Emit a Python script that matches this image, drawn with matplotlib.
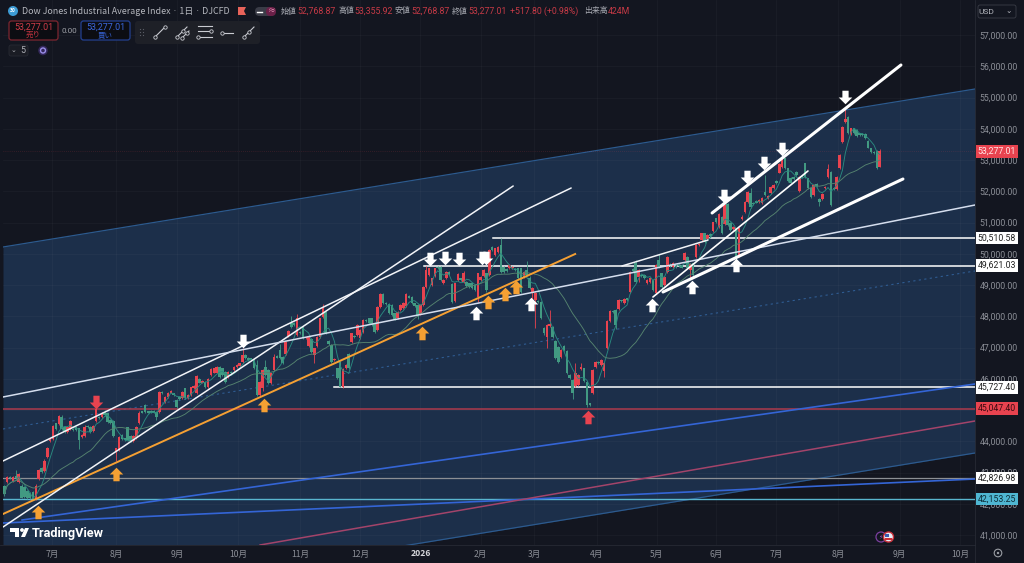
import matplotlib
matplotlib.use("Agg")
import matplotlib.pyplot as plt
import pandas as pd
from matplotlib.patches import Circle, FancyBboxPatch, Polygon, Rectangle
from matplotlib.path import Path

plt.rcParams['font.family'] = ['Noto Sans CJK JP', 'DejaVu Sans']

# daily candles, one value per bar
opens = [
    42570, 42700, 42850, 42720, 42890, 42700, 42570, 42530, 42420, 42330,
    42390, 42140, 42800, 43140, 43060, 43490, 44020, 44060, 44570, 44550,
    44790, 44470, 44310, 44380, 44400, 44450, 44410, 44150, 44180, 44490,
    44470, 44330, 44660, 44790, 44790, 44915, 44890, 44680, 44660, 43690,
    43720, 44200, 44090, 44445, 44170, 44020, 44090, 44570, 44950, 45160,
    44950, 44960, 44960, 44950, 44950, 45590, 45250, 45410, 45560, 45530,
    45320, 45420, 45370, 45690, 45370, 45480, 45700, 45530, 46000, 45880,
    45905, 45750, 46120, 46200, 46200, 46365, 46330, 46230, 46070, 46230,
    46280, 46365, 46410, 46550, 46760, 46660, 46650, 46600, 46440, 45480,
    45700, 46370, 46280, 45850, 46280, 46720, 46920, 46700, 46790, 47370,
    47770, 47790, 47400, 47500, 47670, 47290, 47050, 47260, 46760, 47060,
    47350, 47990, 48150, 47220, 47080, 46600, 46330, 46540, 45750, 46330,
    46800, 47190, 47380, 47400, 47300, 47510, 47880, 47930, 47930, 47770,
    47560, 48310, 48700, 48420, 48380, 48360, 48090, 47950, 48200, 48250,
    48340, 48650, 48630, 48410, 48360, 48060, 48360, 48950, 49320, 49000,
    49300, 49570, 49590, 49050, 49210, 49430, 49020, 48490, 49160, 49210,
    49100, 49100, 49050, 49050, 49000, 48630, 49160, 49300, 49370, 49320,
    50220, 49960, 50070, 50280, 49590, 49500, 49530, 49530, 49520, 49530,
    49530, 49270, 49480, 49210, 48755, 48520, 48500, 48470, 47610, 47350,
    47690, 47660, 47220, 47010, 46690, 47060, 46890, 46120, 45960, 45770,
    45800, 46300, 46330, 45910, 45210, 45540, 46390, 46540, 46440, 46260,
    46980, 47860, 48180, 48200, 48220, 48500, 48430, 48570, 48790, 49500,
    49690, 49270, 49300, 49320, 49070, 49090, 49160, 48750, 49800, 49370,
    49000, 49430, 49650, 49590, 49620, 49630, 49620, 49800, 49910, 49480,
    49690, 49900, 50280, 50440, 50650, 50460, 50620, 50740, 51130, 50870,
    51190, 50950, 51580, 50990, 50780, 50810, 49925, 51110, 51325, 51670,
    51930, 51640, 51700, 51660, 51630, 51965, 51770, 51930, 52100, 52340,
    52600, 52790, 53050, 52730, 52420, 52450, 52630, 52020, 52480, 52890,
    52410, 52090, 51880, 52230, 51740, 51740, 52110, 52450, 52630, 52100,
    52060, 52730, 53590, 54230, 54390, 53830, 54010, 53960, 53850, 53840,
    53830, 53620, 53370, 53260, 53300, 52768.87,
]
closes = [
    42310, 42850, 42820, 42870, 42840, 42950, 42200, 42230, 42170, 42170,
    42140, 42570, 43080, 43030, 43380, 43800, 44090, 44490, 44380, 44810,
    44380, 44310, 44450, 44650, 44350, 44360, 44040, 44200, 44470, 44450,
    44310, 44490, 45020, 44730, 44915, 44840, 44630, 44570, 44170, 43770,
    44150, 44070, 44040, 44040, 44020, 44170, 44470, 44915, 44920, 44950,
    44920, 44920, 44920, 44790, 45590, 45550, 45410, 45560, 45620, 45480,
    45110, 45350, 45590, 45370, 45480, 45725, 45760, 46090, 45880, 45920,
    45750, 45980, 46300, 46330, 46365, 46070, 46120, 45910, 46230, 46190,
    46390, 46440, 46490, 46760, 46650, 46600, 46600, 46330, 45480, 45900,
    46280, 46120, 45850, 46170, 46700, 46680, 46650, 46490, 47190, 47540,
    47670, 47720, 47930, 47450, 47290, 47320, 47350, 46870, 46970, 47350,
    47930, 48250, 47450, 47110, 46550, 46640, 46010, 45750, 46320, 46440,
    46330, 47450, 47340, 47720, 47560, 47880, 47850, 47770, 47720, 47510,
    48310, 48700, 48420, 48380, 48090, 48040, 47910, 48130, 48360, 48420,
    48700, 48600, 48410, 48340, 48040, 48360, 48950, 49480, 49530, 49210,
    49530, 49530, 49160, 49160, 49430, 49340, 48470, 49050, 49340, 49160,
    49400, 48980, 48950, 48910, 48840, 49370, 49270, 49480, 48840, 50120,
    50120, 50170, 50230, 49430, 49430, 49460, 49640, 49580, 49480, 49210,
    48790, 49430, 49320, 48890, 48893, 48730, 48460, 47930, 47475, 47720,
    47750, 47350, 46650, 46550, 46920, 46920, 46170, 46010, 45530, 46170,
    46110, 46380, 45940, 45160, 45160, 46280, 46550, 46500, 46600, 46500,
    47860, 48170, 48140, 47720, 48520, 48490, 48540, 48530, 49430, 49460,
    49110, 49480, 49280, 49210, 49160, 49210, 48840, 49640, 49590, 48950,
    49270, 49890, 49610, 49700, 49580, 49600, 49560, 50035, 49530, 49670,
    49320, 50280, 50320, 50650, 50390, 50600, 50580, 51005, 51030, 51270,
    50670, 51560, 50920, 50760, 50845, 49907, 50810, 51190, 51650, 51965,
    51485, 51600, 51640, 51720, 51800, 51880, 51840, 52150, 52200, 52260,
    52870, 53030, 52730, 52330, 52280, 52400, 52520, 52470, 52450, 52470,
    52090, 51805, 52200, 52170, 51670, 51910, 52150, 52700, 51560, 52060,
    52470, 53160, 54070, 54300, 53850, 54010, 53850, 53770, 53790, 53800,
    53700, 53400, 53270, 53220, 52730, 53277.01,
]
highs = [
    42610, 42900, 42880, 42900, 43080, 43000, 42620, 42560, 42450, 42370,
    42420, 42620, 43120, 43170, 43420, 43830, 44120, 44520, 44600, 44850,
    44830, 44500, 44480, 44680, 44430, 44480, 44440, 44230, 44510, 44520,
    44500, 44520, 45060, 44820, 44940, 45000, 44920, 44710, 44690, 43800,
    44180, 44230, 44120, 44470, 44200, 44200, 44500, 44960, 44980, 45190,
    44980, 44990, 44990, 44980, 45620, 45620, 45440, 45590, 45650, 45560,
    45350, 45450, 45620, 45720, 45510, 45750, 45790, 46120, 46030, 45950,
    45930, 46010, 46330, 46360, 46400, 46400, 46360, 46260, 46260, 46260,
    46420, 46480, 46520, 46980, 46790, 46690, 46680, 46640, 46600, 45930,
    46310, 46600, 46310, 46200, 46800, 46750, 47100, 46730, 47220, 47570,
    48000, 47820, 48070, 47530, 47700, 47350, 47380, 47290, 47000, 47380,
    47960, 48400, 48180, 47250, 47110, 46670, 46360, 46570, 46350, 46470,
    46830, 47480, 47410, 47750, 47590, 47910, 47910, 47960, 47960, 47800,
    48340, 48730, 48730, 48450, 48410, 48390, 48120, 48160, 48390, 48450,
    48730, 48680, 48660, 48440, 48390, 48390, 48980, 49600, 49560, 49240,
    49560, 49600, 49620, 49190, 49460, 49460, 49050, 49080, 49370, 49240,
    49440, 49130, 49080, 49080, 49030, 49400, 49300, 49510, 49400, 50150,
    50250, 50200, 50260, 50510, 49620, 49530, 49670, 49610, 49550, 49560,
    49560, 49460, 49780, 49300, 48930, 48780, 48530, 48500, 47650, 47750,
    48200, 47690, 47250, 47040, 46950, 47090, 46920, 46150, 45990, 46500,
    46140, 46500, 46360, 45940, 45240, 46310, 46580, 46570, 46630, 46530,
    47890, 48200, 48210, 48230, 48550, 48530, 48570, 48600, 49460, 49530,
    49800, 49510, 49330, 49350, 49190, 49240, 49190, 49670, 49980, 49400,
    49300, 49920, 49690, 49730, 49650, 49660, 49650, 50060, 49940, 49700,
    49720, 50310, 50350, 50680, 50680, 50630, 50650, 51030, 51160, 51300,
    51220, 51590, 51610, 51020, 50880, 50840, 50840, 51250, 51680, 52000,
    52100, 51670, 51730, 51750, 51830, 52520, 51870, 52180, 52230, 52370,
    52900, 53060, 53080, 52760, 52450, 52480, 52660, 52500, 52510, 52920,
    52440, 52120, 52230, 52260, 51770, 51940, 52180, 52860, 52660, 52130,
    52500, 53190, 54100, 54640, 54420, 54040, 54040, 53990, 53880, 53870,
    53860, 53650, 53400, 53290, 53330, 53355.92,
]
lows = [
    42240, 42650, 42780, 42690, 42800, 42670, 42180, 42180, 42140, 42140,
    42110, 42110, 42770, 43000, 43030, 43460, 43980, 44030, 44350, 44520,
    44350, 44280, 44280, 44350, 44320, 44330, 43740, 44120, 44150, 44420,
    44280, 44300, 44630, 44700, 44760, 44810, 44600, 44540, 44140, 43380,
    43690, 44040, 44010, 44010, 43990, 43990, 44060, 44540, 44890, 44920,
    44890, 44890, 44890, 44680, 44920, 45520, 45220, 45380, 45530, 45450,
    45080, 45320, 45340, 45340, 45340, 45450, 45670, 45500, 45850, 45850,
    45720, 45720, 46090, 46170, 46170, 46040, 46090, 45880, 46040, 46160,
    46250, 46330, 46380, 46520, 46620, 46570, 46570, 46300, 45450, 45450,
    45600, 46090, 45820, 45820, 46250, 46650, 46620, 46460, 46760, 47340,
    47640, 47690, 47370, 47420, 47260, 47260, 47020, 46840, 46500, 47030,
    47320, 47960, 47420, 47080, 46520, 46570, 45980, 45730, 45720, 46300,
    46300, 47160, 47310, 47370, 47270, 47480, 47820, 47740, 47690, 47480,
    47530, 48280, 48390, 48350, 48060, 48010, 47880, 47920, 48170, 48220,
    48310, 48570, 48380, 48310, 47900, 48030, 48330, 48920, 49290, 48970,
    49270, 49500, 49130, 49020, 49180, 49310, 48440, 48460, 49130, 49130,
    49070, 48950, 48920, 48880, 48810, 48460, 49130, 49270, 48790, 49290,
    50090, 49930, 50040, 49400, 49400, 49430, 49500, 49500, 49450, 49180,
    48760, 49240, 49290, 48860, 48500, 47620, 48430, 47900, 47400, 46970,
    47660, 47320, 46620, 46520, 46660, 46890, 46140, 45980, 45350, 45740,
    45770, 46270, 45910, 45100, 45130, 45510, 46360, 46470, 46410, 46050,
    46950, 47830, 48110, 47600, 48190, 48460, 48400, 48500, 48760, 49430,
    49080, 49100, 49250, 49180, 49040, 49060, 48810, 48720, 49560, 48920,
    48970, 49400, 49580, 49560, 49550, 49570, 49530, 49770, 49500, 49220,
    49290, 49870, 50250, 50410, 50360, 50430, 50550, 50710, 51000, 50840,
    50640, 50920, 50890, 50730, 50750, 49880, 49900, 51080, 51290, 51640,
    51450, 51570, 51610, 51630, 51600, 51850, 51740, 51900, 52070, 52230,
    52570, 52760, 52700, 52300, 52250, 52370, 52490, 51990, 52420, 52440,
    52060, 51780, 51850, 52140, 51540, 51710, 52080, 52420, 51530, 52030,
    52030, 52700, 53560, 54200, 53820, 53800, 53820, 53740, 53760, 53770,
    53670, 53370, 53240, 53190, 52700, 52768.87,
]

month_pos = [16.6, 38.9, 60.2, 81.4, 103, 124, 145, 166, 184.6, 206.5, 227.4, 248, 269, 290.6, 312, 333]
month_labels = ['7月', '8月', '9月', '10月', '11月', '12月', '2026', '2月', '3月', '4月', '5月', '6月', '7月', '8月', '9月', '10月']
price_ticks = list(range(41000, 58000, 1000))

# drawn lines, [x0, x1], [price0, price1] in bars
white_lines = [
    ([-0.45, 197.5], [43368, 52104], 1.1, '#f2f4f8'),
    ([-0.45, 177.3], [41256, 52168], 1.1, '#f2f4f8'),
    ([-0.45, 338.2], [45416, 51560], 1.1, '#d5deee'),
    ([215.2, 245.2], [49608, 50440], 1.1, '#f2f4f8'),
    ([226, 280], [48616, 52648], 1.2, '#ffffff'),
    ([246.6, 312.4], [51304, 56040], 2.2, '#ffffff'),
    ([229.5, 313.1], [48776, 52392], 2.2, '#ffffff'),
]
orange_x, orange_y = [-0.45, 198.9], [41672, 49992]
blue1_x, blue1_y = [6.2, 338.2], [41480, 45832]
blue2_x, blue2_y = [-0.45, 338.2], [41384, 42792]
crimson_x, crimson_y = [89.1, 338.2], [40680, 44648]

channel_x = [-0.45, 338.2]
channel_top = [50216, 55272]
channel_mid = [44392, 49448]
channel_bot = [38568, 43624]

level_white = [50510.58, 49621.03, 45727.40]
level_white_start = [170.3, 146.2, 114.9]
level_red = 45047.40
level_gray = 42826.98
level_cyan = 42153.25
last_price = 53277.01

down_white_x = [83.2, 148.3, 153.5, 158.4, 166.4, 167.8, 250.8, 258.8, 264.7, 271, 292.9]
down_white_y = [47208, 49832, 49864, 49832, 49864, 49864, 51848, 52456, 52904, 53352, 55016]
up_white_x = [164.4, 183.5, 225.7, 239.6, 255]
up_white_y = [48104, 48392, 48360, 48936, 49640]
up_orange_x = [11.7, 38.9, 90.5, 145.5, 168.5, 174.4, 178.3]
up_orange_y = [41736, 42952, 45160, 47464, 48456, 48712, 48936]

BG = '#131620'
CHANNEL = '#1c2f4a'
UP = '#e8434f'
DOWN = '#429a82'
GRAY = '#8b8e96'
NUM = 'Roboto'

fig = plt.figure(figsize=(10.24, 5.63), dpi=100, facecolor=BG)
ax = fig.add_axes([3 / 1024, 18 / 563, 972 / 1024, 545 / 563], facecolor=BG)
ax.set_xlim(-0.45, 338.2)
ax.set_ylim(40680, 58120)

# channel
ax.fill_between(channel_x, channel_bot, channel_top, color=CHANNEL, lw=0, zorder=0)
ax.plot(channel_x, channel_top, color='#2c5a8e', lw=0.9, zorder=1)
ax.plot(channel_x, channel_bot, color='#2c5a8e', lw=0.9, zorder=1)
ax.plot(channel_x, channel_mid, color='#2f5c92', lw=0.8, ls=(0, (2, 3)), zorder=1)

ax.grid(True, color='white', alpha=0.03, lw=0.6)
ax.set_axisbelow(True)
ax.axhline(last_price, color=UP, alpha=0.3, lw=0.5, ls=(0, (1, 2)), zorder=1)

# horizontal levels
for level, start in zip(level_white, level_white_start):
    ax.plot([start, 338.2], [level, level], color='white', lw=1.1, zorder=2)
ax.axhline(level_red, color='#ad3a4c', lw=1.1, zorder=2)
ax.axhline(level_gray, color='#8c8f94', lw=0.9, zorder=2)
ax.axhline(level_cyan, color='#59b6cf', lw=1.0, zorder=2)

# diagonal lines
ax.plot(blue1_x, blue1_y, color='#3465d6', lw=1.2, zorder=2)
ax.plot(blue2_x, blue2_y, color='#3465d6', lw=1.2, zorder=2)
ax.plot(crimson_x, crimson_y, color='#a3446a', lw=1.1, zorder=2)

# candles
bars = range(len(closes))
wick_colors = [UP if c >= o else DOWN for o, c in zip(opens, closes)]
ax.vlines(bars, lows, highs, colors=wick_colors, lw=0.6, zorder=3)
body_low = [min(o, c) for o, c in zip(opens, closes)]
body_height = [max(abs(c - o), 40) for o, c in zip(opens, closes)]
ax.bar(bars, body_height, bottom=body_low, width=0.88, color=wick_colors, lw=0, zorder=3)

# moving averages
close_series = pd.Series(closes)
ax.plot(bars, close_series.rolling(5, min_periods=1).mean(), color='#2a8a80', lw=0.65, zorder=4)
ax.plot(bars, close_series.rolling(25, min_periods=1).mean(), color='#55836f', lw=0.65, zorder=4)

ax.plot(orange_x, orange_y, color='#f5a033', lw=1.4, zorder=5)
for xs, ys, lw, color in white_lines:
    ax.plot(xs, ys, color=color, lw=lw, zorder=5, solid_capstyle='round')

# arrows
up_arrow = Path([(-1, 0), (0, 1), (1, 0), (0.46, 0), (0.46, -1), (-0.46, -1), (-0.46, 0), (-1, 0)], closed=True)
down_arrow = Path([(-1, 0), (0, -1), (1, 0), (0.46, 0), (0.46, 1), (-0.46, 1), (-0.46, 0), (-1, 0)], closed=True)
ax.scatter(down_white_x, down_white_y, marker=down_arrow, s=95, color='white', lw=0, zorder=6)
ax.scatter(up_white_x, up_white_y, marker=up_arrow, s=95, color='white', lw=0, zorder=6)
ax.scatter(up_orange_x, up_orange_y, marker=up_arrow, s=95, color='#f5a033', lw=0, zorder=6)
ax.scatter([31.95], [45256], marker=down_arrow, s=95, color=UP, lw=0, zorder=6)
ax.scatter([203.4], [44776], marker=up_arrow, s=95, color=UP, lw=0, zorder=6)

# axes
for side in ax.spines.values():
    side.set_visible(False)
ax.set_xticks(month_pos)
ax.set_xticklabels([])
ax.yaxis.tick_right()
ax.set_yticks(price_ticks)
# the 45,000 label sits fully under the red tag
ax.set_yticklabels(['' if p == 45000 else f'{p:,.2f}' for p in price_ticks], fontsize=6.3, color=GRAY, family=NUM)
ax.tick_params(axis='both', length=0, pad=3.5)

# price tags on the scale
tags = [
    (level_white[0], '#ffffff', '#222222'),
    (level_white[1], '#ffffff', '#222222'),
    (level_white[2], '#ffffff', '#222222'),
    (level_red, '#e8434f', '#3a0b10'),
    (level_gray, '#ffffff', '#222222'),
    (level_cyan, '#4fb6d2', '#0d2d38'),
    (last_price, '#e8434f', '#ffe8e8'),
]
for price, box_color, text_color in tags:
    ax.annotate(f'{price:,.2f}', xy=(1.0, price), xycoords=('axes fraction', 'data'),
                xytext=(22, 0), textcoords='offset pixels', ha='center', va='center',
                fontsize=6.3, color=text_color, family=NUM, zorder=20, annotation_clip=False,
                bbox=dict(boxstyle='square,pad=0.2', fc=box_color, ec='none'))

# header, toolbar and bottom strip in screen pixels
ui = fig.add_axes([0, 0, 1, 1], facecolor='none')
ui.set_xlim(0, 1024)
ui.set_ylim(563, 0)
ui.axis('off')

ui.add_patch(Rectangle((0, 545), 1024, 18, fc=BG, ec='none'))
ui.plot([0, 975], [545, 545], color='#2a2e38', lw=0.5)
ui.plot([975, 975], [0, 563], color='#2a2e38', lw=0.5)
for pos, label in zip(month_pos, month_labels):
    px = 4.3 + 2.87 * pos
    ui.text(px, 554, label, ha='center', va='center', fontsize=6.2, color='#d5d6da' if label == '2026' else GRAY,
            fontweight='bold' if label == '2026' else 'normal')
ui.add_patch(Circle((998, 553), 3.8, fc='none', ec='#9a9da4', lw=0.8))
ui.add_patch(Circle((998, 553), 1.2, fc='#9a9da4', ec='none'))

ui.add_patch(Circle((13, 11), 5, fc='#3d9bd4', ec='none'))
ui.text(13, 11, '30', ha='center', va='center', fontsize=3.6, color='white', fontweight='bold')
ui.text(22, 11, 'Dow Jones Industrial Average Index · 1日 · DJCFD', va='center', fontsize=6.4, color='#b4b6bd')
ui.add_patch(Polygon([(238, 7), (246, 7), (244, 11), (246, 15), (238, 15)], fc='#e8635a', ec='none'))
ui.add_patch(FancyBboxPatch((255, 7), 20, 9, boxstyle='round,pad=0,rounding_size=4.5', fc='#3a3c47', ec='none'))
ui.add_patch(FancyBboxPatch((266, 7), 10, 9, boxstyle='round,pad=0,rounding_size=4.5', fc='#6a2048', ec='none'))
ui.plot([257, 262], [11.5, 11.5], color='white', lw=1)
ui.text(270.5, 11, '≈', ha='center', va='center', fontsize=5.5, color='#e895b8')

ohlc = [(281, '始値', 297, '52,768.87'), (338, '高値', 354, '53,355.92'),
        (395, '安値', 411, '52,768.87'), (452, '終値', 468, '53,277.01')]
for x_lab, lab, x_val, val in ohlc:
    ui.text(x_lab, 11, lab, va='center', fontsize=5.7, color='#a8aab2')
    ui.text(x_val, 11, val, va='center', fontsize=6.3, color='#c63a46', family=NUM)
ui.text(510, 11, '+517.80 (+0.98%)', va='center', fontsize=6.3, color='#c63a46', family=NUM)
ui.text(584, 11, '出来高', va='center', fontsize=5.7, color='#a8aab2')
ui.text(608, 11, '424M', va='center', fontsize=6.3, color='#c63a46', family=NUM)

ui.add_patch(FancyBboxPatch((9, 21), 49, 19, boxstyle='round,pad=0,rounding_size=2.5', fc='#0c0d12', ec='#7d2630', lw=0.9))
ui.text(33.5, 27, '53,277.01', ha='center', va='center', fontsize=6.4, color='#d23c48', family=NUM)
ui.text(33.5, 35, '売り', ha='center', va='center', fontsize=5.4, color='#c2333f')
ui.text(69.5, 31, '0.00', ha='center', va='center', fontsize=5.8, color='#a0a2a8', family=NUM)
ui.add_patch(FancyBboxPatch((81, 21), 49, 19, boxstyle='round,pad=0,rounding_size=2.5', fc='#0c0d12', ec='#23408f', lw=0.9))
ui.text(105.5, 27, '53,277.01', ha='center', va='center', fontsize=6.4, color='#3b68e0', family=NUM)
ui.text(105.5, 35, '買い', ha='center', va='center', fontsize=5.4, color='#3560d0')

# drawing toolbar
ui.add_patch(FancyBboxPatch((135, 21), 125, 23, boxstyle='round,pad=0,rounding_size=3', fc='#1e2027', ec='none'))
for gx in (140, 143):
    ui.scatter([gx, gx, gx], [29, 32, 35], s=0.8, color='#5c5f68', lw=0)
icon = dict(color='#c9cbd1', lw=0.8)
dot = dict(s=6, fc='#1e2027', ec='#c9cbd1', lw=0.6, zorder=3)
ui.plot([155, 165], [37, 27], **icon)
ui.scatter([155, 165], [37, 27], **dot)
ui.plot([177, 187], [37, 27], **icon)
ui.plot([182, 189], [38, 31], **icon)
ui.scatter([177, 183, 182, 187], [37, 31, 38, 33], **dot)
for ly in (26, 31, 37):
    ui.plot([198, 212], [ly, ly], **icon)
ui.scatter([211, 198], [31, 37], **dot)
ui.plot([222, 233], [32.5, 32.5], **icon)
ui.scatter([222], [32.5], **dot)
ui.plot([244, 254], [37, 27], **icon)
ui.scatter([244, 249], [37, 32], **dot)

ui.add_patch(FancyBboxPatch((9, 45), 19, 11, boxstyle='round,pad=0,rounding_size=2', fc='#1a1c24', ec='#2a2d36', lw=0.5))
ui.text(14, 50.5, '⌄', ha='center', va='center', fontsize=5, color='#b0b2b9')
ui.text(22.5, 50.5, '5', ha='center', va='center', fontsize=6.4, color='#b0b2b9', family=NUM)
ui.add_patch(Circle((43, 50.5), 4.8, fc='#33285a', ec='none'))
ui.add_patch(Circle((43, 50.5), 2.5, fc='none', ec='#9a8de8', lw=1))

ui.add_patch(FancyBboxPatch((978, 5), 38, 13, boxstyle='round,pad=0,rounding_size=2', fc=BG, ec='#3a3d47', lw=0.6))
ui.text(986, 11.5, 'USD', va='center', ha='center', fontsize=6, color='#b4b6bd', family=NUM)
ui.text(1009, 11, '⌄', va='center', ha='center', fontsize=5.5, color='#b4b6bd')

# TradingView logo
ui.add_patch(Polygon([(10, 528), (19, 528), (19, 537), (15, 537), (15, 532), (10, 532)], fc='white', ec='none'))
ui.add_patch(Circle((22, 530), 1.9, fc='white', ec='none'))
ui.add_patch(Polygon([(25, 528), (29, 528), (25, 537), (21, 537)], fc='white', ec='none'))
ui.text(32, 533, 'TradingView', va='center', fontsize=9.2, color='white', fontweight='bold', family='Roboto')

# event icons
ui.add_patch(Circle((881, 537), 5, fc=BG, ec='#7a3f9e', lw=0.9))
ui.text(881, 537, '⚡', ha='center', va='center', fontsize=4.5, color='#9b59c6')
ui.add_patch(Circle((888.5, 537), 5, fc='#e8ecf5', ec='#c9303a', lw=1))
ui.add_patch(Rectangle((885, 538), 7, 1.5, fc='#c9303a', ec='none'))
ui.add_patch(Rectangle((885, 533.5), 3.5, 3, fc='#3b5bb0', ec='none'))

fig.savefig('out.png', dpi=100, facecolor=BG)
